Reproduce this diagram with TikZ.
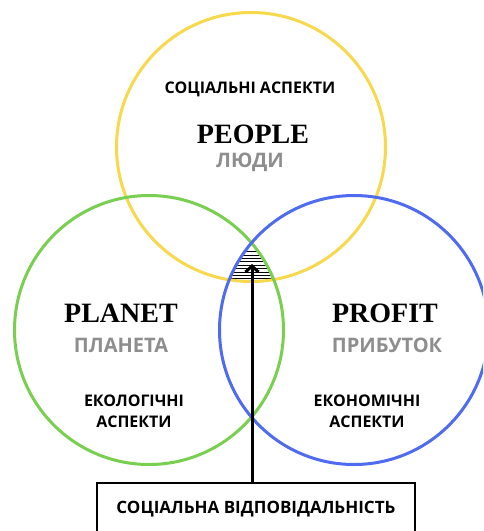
\documentclass[tikz,border=0pt]{standalone}
\usepackage{fontspec}
\setmainfont{Liberation Serif}
\newfontfamily\osans{Open Sans}
\usetikzlibrary{arrows.meta}
\definecolor{cyellow}{HTML}{F8D84C}
\definecolor{cgreen}{HTML}{78CF50}
\definecolor{cblue}{HTML}{4F6CF0}
\definecolor{cgray}{HTML}{8E8E8E}
\tikzset{
  ring/.style={circle,draw=#1,line width=3pt,minimum size=269pt,inner sep=0pt},
  title/.style={font=\fontsize{28}{30}\selectfont\bfseries,text=black,inner sep=0pt},
  subtitle/.style={font=\osans\fontsize{20}{22}\selectfont\bfseries,text=cgray,inner sep=0pt},
  aspect/.style={font=\osans\fontsize{16}{21}\selectfont\bfseries,text=black,inner sep=0pt,align=center},
  boxed/.style={draw=black,line width=2pt,minimum width=318pt,minimum height=52pt,inner sep=0pt,
    font=\osans\fontsize{17}{19}\selectfont\bfseries},
  arrowline/.style={line width=3pt,-{Straight Barb[length=6pt,width=13pt,line width=3pt]}},
  hatch/.style={black,line width=0.7pt}
}
\begin{document}
\begin{tikzpicture}[x=1pt,y=-1pt]
\useasboundingbox (0,0) rectangle (483,531);
\clip (0,0) rectangle (483,531);
\fill[white] (0,0) rectangle (483,531);
% hatch in the triple intersection
\begin{scope}
  \clip (251,147) circle (134.5);
  \clip (149,330) circle (134.5);
  \clip (354,330) circle (134.5);
  \foreach \k in {0,...,9} {
    \draw[hatch] (200,{251.5+3.4*\k}) -- (300,{251.5+3.4*\k});
  }
\end{scope}
\node[ring=cyellow] (people) at (251,147) {};
\node[ring=cgreen] (planet) at (149,330) {};
\node[ring=cblue] (profit) at (354,330) {};
% texts
\node[aspect] (socasp) at (250,89) {СОЦІАЛЬНІ АСПЕКТИ};
\node[title] (peoplet) at (253,134) {PEOPLE};
\node[subtitle] (lyudy) at (250,162) {ЛЮДИ};
\node[title] (planett) at (121,313) {PLANET};
\node[subtitle] (planeta) at (121,345) {ПЛАНЕТА};
\node[aspect] (ekol) at (134,411) {ЕКОЛОГІЧНІ\\АСПЕКТИ};
\node[title] (profitt) at (385,313) {PROFIT};
\node[subtitle] (prybutok) at (387,345) {ПРИБУТОК};
\node[aspect] (ekon) at (367,411) {ЕКОНОМІЧНІ\\АСПЕКТИ};
% box and arrow
\node[boxed,anchor=north] (box) at (256,482) {СОЦІАЛЬНА ВІДПОВІДАЛЬНІСТЬ};
\coordinate (tip) at (252,264);
\draw[arrowline] (tip |- box.north) -- (tip);
\end{tikzpicture}
\end{document}
